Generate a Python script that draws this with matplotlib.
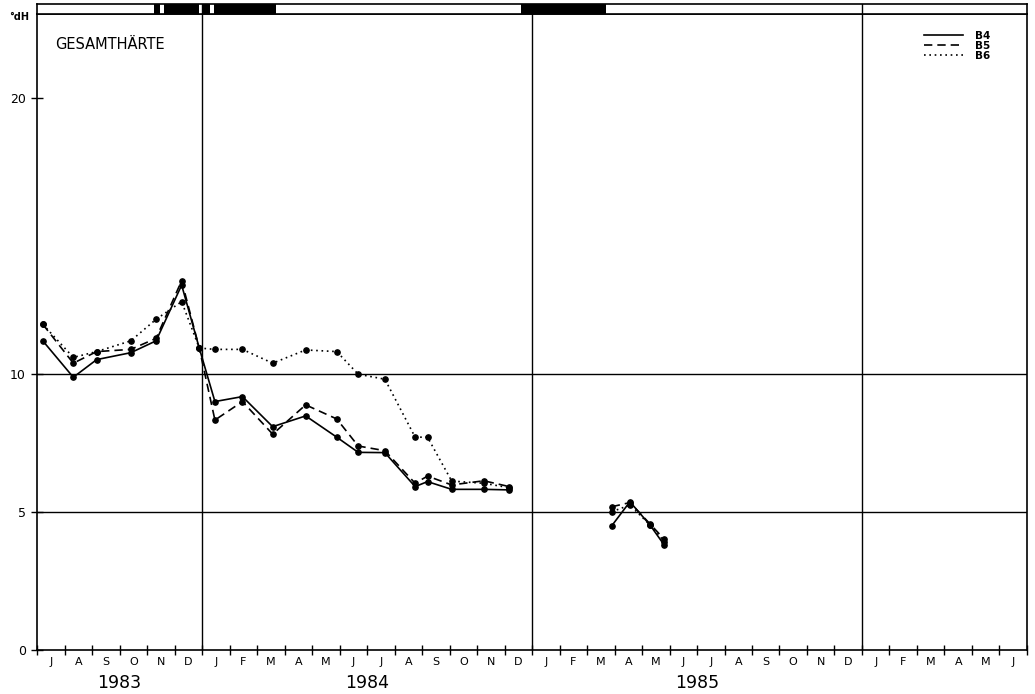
import matplotlib.pyplot as plt
import matplotlib.transforms as mtransforms
import numpy as np

# sampling dates, months counted from 1 July 1983
t83 = [0.21, 1.32, 2.17, 3.41, 4.33, 5.26, 5.90, 6.47, 7.47, 8.57, 9.77,
       10.90, 11.68, 12.65, 13.75, 14.20, 15.08, 16.25, 17.17]
t85 = [20.90, 21.56, 22.29, 22.81]

# Gesamthaerte in degrees dH
b4_83 = [11.20, 9.88, 10.52, 10.77, 11.20, 13.22, 10.94, 9.00, 9.18, 8.09, 8.48,
         7.71, 7.16, 7.15, 5.92, 6.10, 5.82, 5.82, 5.80]
b5_83 = [11.80, 10.39, 10.81, 10.89, 11.29, 13.38, 10.94, 8.33, 9.00, 7.82, 8.88,
         8.37, 7.39, 7.22, 6.04, 6.30, 5.98, 6.13, 5.92]
b6_83 = [11.80, 10.60, 10.81, 11.20, 11.98, 12.62, 10.94, 10.89, 10.89, 10.39, 10.87,
         10.81, 9.99, 9.81, 7.71, 7.71, 6.12, 6.04, 5.88]
b4_85 = [4.50, 5.37, 4.53, 3.80]
b5_85 = [5.19, 5.34, 4.57, 4.01]
b6_85 = [5.01, 5.25, 4.53, 3.93]

# ice cover periods (black bars in the top strip)
ice = [(4.25, 4.47), (4.62, 5.89), (6.04, 6.29), (6.44, 8.69), (17.60, 20.69)]

month_letters = ['J', 'F', 'M', 'A', 'M', 'J', 'J', 'A', 'S', 'O', 'N', 'D']
n_months = 36
year_bounds = [6, 18, 30]
years = ['1983', '1984', '1985']
year_centers = [3, 12, 24]
hlines = [5, 10]

plt.rcParams['font.family'] = ['DejaVu Sans']

fig = plt.figure(figsize=(10.35, 6.94), dpi=100)
ax = fig.add_axes([0.03575, 0.0634, 0.95652, 0.91643])
band = fig.add_axes([0.03575, 0.97983, 0.95652, 0.01369])

lw = 1.2
for y in hlines:
    ax.axhline(y, color='k', lw=1.0, zorder=1)
for x in year_bounds:
    ax.axvline(x, color='k', lw=1.0, zorder=1)
    band.axvline(x, color='k', lw=1.0)

kw = dict(color='k', marker='o', markersize=3.8, lw=lw)
ax.plot(t83, b4_83, ls='-', label='B4', **kw)
ax.plot(t83, b5_83, ls=(0, (5, 3)), label='B5', **kw)
ax.plot(t83, b6_83, ls=(0, (1, 2.2)), label='B6', **kw)
ax.plot(t85, b4_85, ls='-', **kw)
ax.plot(t85, b5_85, ls=(0, (5, 3)), **kw)
ax.plot(t85, b6_85, ls=(0, (1, 2.2)), **kw)

ax.set_xlim(0, n_months)
ax.set_ylim(0, 23.04)
ax.set_yticks([0, 5, 10, 20])
ax.tick_params(axis='y', direction='inout', length=9, width=1, labelsize=9)
ax.set_xticks(np.arange(0, n_months + 1))
ax.set_xticks(np.arange(n_months) + 0.5, minor=True)
ax.set_xticklabels([])
labels = [month_letters[(k + 6) % 12] for k in range(n_months)]
ax.set_xticklabels(labels, minor=True, fontsize=8)
ax.tick_params(axis='x', which='major', direction='inout', length=7, width=1)
ax.tick_params(axis='x', which='minor', length=0, pad=5)
for s in ax.spines.values():
    s.set_linewidth(1.2)

trans = mtransforms.blended_transform_factory(ax.transData, ax.transAxes)
for xc, yr in zip(year_centers, years):
    ax.text(xc, -0.052, yr, transform=trans, ha='center', va='center', fontsize=12.5)

ax.text(0.018, 0.952, 'GESAMTHÄRTE', transform=ax.transAxes, fontsize=10.5,
        ha='left', va='center')
ax.text(-0.018, 0.995, '°dH', transform=ax.transAxes, fontsize=7,
        ha='center', va='center', fontweight='bold')

leg = ax.legend(loc='upper right', bbox_to_anchor=(0.97, 0.985), frameon=False,
                fontsize=7.5, handlelength=3.8, labelspacing=0.0, handletextpad=1.1,
                borderpad=0.2)
for h in leg.legend_handles:
    h.set_marker('')
for txt in leg.get_texts():
    txt.set_fontweight('bold')

band.set_xlim(0, n_months)
band.set_ylim(0, 1)
for a, b in ice:
    band.axvspan(a, b, color='k', lw=0)
band.set_xticks([])
band.set_yticks([])
for s in band.spines.values():
    s.set_linewidth(1.2)

fig.savefig('out.png', dpi=100)
